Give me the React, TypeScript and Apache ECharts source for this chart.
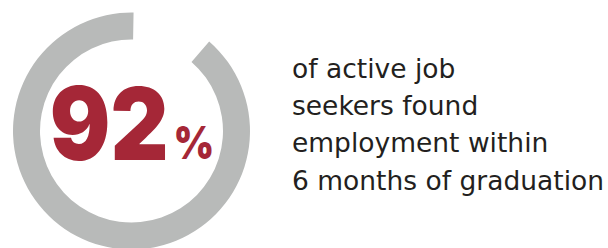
import React, { useEffect, useRef } from "react";
import * as echarts from "echarts";

// Ring: the grey arc vs. the open gap (share of the full circle)
const ringSlices = ["gap", "arc"];
const ringValues = [11.1, 88.9];

// Headline figure
const headlineValue = "92";
const headlineUnit = "%";

// Caption lines
const captionLines = [
  "of active job",
  "seekers found",
  "employment within",
  "6 months of graduation",
];

const GREY = "#B8BAB9";
const RED = "#A52737";
const INK = "#231F20";

export default function App() {
  const ref = useRef<HTMLDivElement>(null);

  useEffect(() => {
    if (!ref.current) return;
    const chart = echarts.init(ref.current, undefined, { renderer: "svg" });

    const cx = 131.5;
    const cy = 131;
    const lineTop = 68.5;
    const lineGap = 37.2;

    chart.setOption({
      animation: false,
      backgroundColor: "#ffffff",
      series: [
        {
          type: "pie",
          center: [cx, cy],
          radius: [91.5, 118.5],
          startAngle: 89,
          clockwise: true,
          silent: true,
          label: { show: false },
          labelLine: { show: false },
          emphasis: { disabled: true },
          data: ringSlices.map((name, i) => ({
            name,
            value: ringValues[i],
            itemStyle: {
              color: name === "gap" ? "rgba(0,0,0,0)" : GREY,
              borderWidth: 0,
            },
          })),
        },
      ],
      graphic: [
        {
          type: "text",
          x: 168.5,
          y: 123.5,
          scaleX: 0.89,
          style: {
            text: headlineValue,
            fill: RED,
            font: "900 101px Inter, 'DejaVu Sans', sans-serif",
            align: "right",
            verticalAlign: "middle",
          },
        },
        {
          type: "text",
          x: 173.5,
          y: 141.8,
          scaleX: 0.85,
          style: {
            text: headlineUnit,
            fill: RED,
            font: "900 46px Inter, 'DejaVu Sans', sans-serif",
            align: "left",
            verticalAlign: "middle",
          },
        },
        ...captionLines.map((t, i) => ({
          type: "text",
          x: 292,
          y: lineTop + i * lineGap,
          style: {
            text: t,
            fill: INK,
            font: "400 26.5px 'DejaVu Sans', sans-serif",
            align: "left",
            verticalAlign: "middle",
          },
        })),
      ],
    });

    return () => chart.dispose();
  }, []);

  return (
    <div
      ref={ref}
      style={{ position: "fixed", left: 0, top: 0, width: 608, height: 248 }}
    />
  );
}
